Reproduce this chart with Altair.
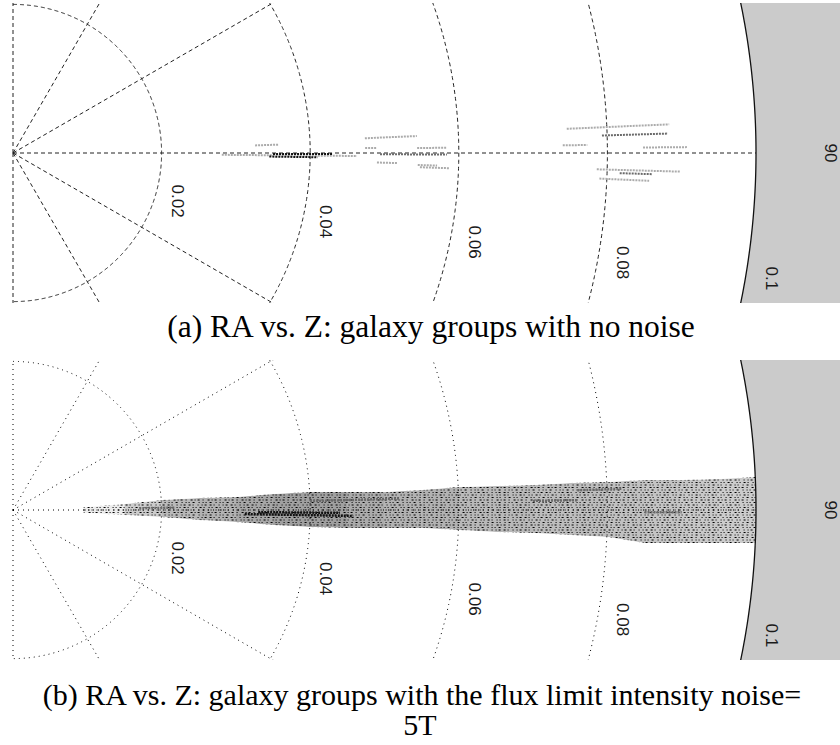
import numpy as np
import pandas as pd
import altair as alt

# ---------------- values ----------------
ring_z = [0.02, 0.04, 0.06, 0.08]
ring_text = ["0.02", "0.04", "0.06", "0.08"]
z_max = 0.1
z_max_text = "0.1"
spoke_ra = [0, 30, 60, 90, 120, 150, 180]
angle_label_ra = [90]
angle_label_text = ["90"]

# (a) galaxy groups: radial runs of members (z start, z end, RA [deg], density class 1..3)
grp_z0 = [0.0326, 0.0281, 0.0350, 0.0345, 0.0474, 0.0474, 0.0494, 0.0490, 0.0545,
          0.0544, 0.0548, 0.0746, 0.0793, 0.0740, 0.0848, 0.0786, 0.0817, 0.0790]
grp_z1 = [0.0357, 0.0463, 0.0430, 0.0410, 0.0544, 0.0490, 0.0584, 0.0517, 0.0571,
          0.0584, 0.0588, 0.0884, 0.0882, 0.0773, 0.0907, 0.0898, 0.0861, 0.0857]
grp_ra = [88.2, 90.5, 90.2, 90.8, 87.6, 89.2, 90.2, 91.5, 91.7,
          89.3, 92.0, 87.5, 88.3, 89.2, 89.5, 91.6, 91.9, 92.5]
grp_level = [1, 1, 3, 3, 1, 1, 2, 1, 1,
             1, 1, 1, 2, 1, 1, 1, 2, 1]

# (b) groups plus flux-limit noise: extent of the filled slice in RA at each z
band_z = [0.0095, 0.015, 0.020, 0.025, 0.030, 0.035, 0.040, 0.045, 0.050, 0.055,
          0.060, 0.065, 0.070, 0.075, 0.080, 0.085, 0.090, 0.095, 0.100]
band_ra_lo = [87.69, 86.92, 86.14, 86.30, 86.66, 86.47, 86.53, 86.92, 87.22, 87.20,
              87.04, 87.15, 87.25, 87.22, 87.30, 87.28, 87.43, 87.48, 87.45]
band_ra_hi = [92.31, 92.57, 92.70, 93.08, 93.08, 93.31, 93.28, 93.08, 92.78, 92.52,
              92.57, 92.61, 92.53, 92.57, 92.60, 92.99, 92.83, 92.68, 92.55]
# point density between consecutive z nodes (fraction of ink)
band_density = [0.10, 0.28, 0.38, 0.42, 0.48, 0.52, 0.52, 0.46, 0.42,
                0.42, 0.38, 0.38, 0.36, 0.36, 0.34, 0.32, 0.30, 0.28]
# denser knots inside the noisy slice
knot_z0 = [0.0312, 0.0330, 0.0170, 0.0400, 0.0700, 0.0760, 0.0850]
knot_z1 = [0.0458, 0.0440, 0.0218, 0.0520, 0.0760, 0.0820, 0.0900]
knot_ra = [91.0, 90.5, 89.2, 88.3, 89.0, 88.0, 90.2]
knot_level = [3, 3, 2, 2, 2, 2, 2]

caption_a = "(a) RA vs. Z: galaxy groups with no noise"
caption_b = ["(b) RA vs. Z: galaxy groups with the flux limit intensity noise=", "5T"]

# ---------------- geometry ----------------
PX_PER_Z = 7430.0     # pixels per unit redshift
W, H = 840, 300
ORIGIN_X = 13         # pixel column of z = 0
LABEL_SLOPE = 0.138   # range labels sit on a ray tilted below the 90 deg spoke
LABEL_DX, LABEL_DY = 15, 11

X_DOM = [-ORIGIN_X / PX_PER_Z, (W - ORIGIN_X) / PX_PER_Z]
Y_DOM = [-H / 2 / PX_PER_Z, H / 2 / PX_PER_Z]
xs = alt.Scale(domain=X_DOM, nice=False, zero=False)
ys = alt.Scale(domain=Y_DOM, nice=False, zero=False)


def polar(z, ra):
    t = np.radians(ra)
    return np.asarray(z) * np.sin(t), np.asarray(z) * np.cos(t)


def X(f):
    return alt.X(f, type="quantitative", scale=xs, axis=None)


def Y(f):
    return alt.Y(f, type="quantitative", scale=ys, axis=None)


arc_ra = np.arange(0, 180.25, 0.25)
rows = []
for z in ring_z:
    ax, ay = polar(z, arc_ra)
    rows += [{"ring": z, "k": k, "x": ax[k], "y": ay[k]} for k in range(len(arc_ra))]
rings = pd.DataFrame(rows)

ox, oy = polar(z_max, arc_ra)
outer = pd.DataFrame({"k": range(len(arc_ra)), "x": ox, "y": oy})

# outside of the rim, limited to the panel's vertical extent
ra_edge = np.degrees(np.arccos(Y_DOM[1] / z_max))
shade_ra = np.linspace(ra_edge, 180 - ra_edge, 241)
shx, shy = polar(z_max, shade_ra)
shade_df = pd.DataFrame({"x": shx, "y": shy, "xr": X_DOM[1]})

sx, sy = polar(z_max, np.array(spoke_ra, dtype=float))
spokes = pd.DataFrame({"x0": 0.0, "y0": 0.0, "x1": sx, "y1": sy})

lab_z = np.array(ring_z + [z_max])
labels = pd.DataFrame({
    "text": ring_text + [z_max_text],
    "x": lab_z + LABEL_DX / PX_PER_Z,
    "y": -lab_z * LABEL_SLOPE - LABEL_DY / PX_PER_Z,
})
alx, aly = polar(1.1 * z_max, np.array(angle_label_ra, dtype=float))
angle_labels = pd.DataFrame({"text": angle_label_text, "x": alx, "y": aly})


def runs(z0, z1, ra, level):
    x0, y0 = polar(z0, ra)
    x1, y1 = polar(z1, ra)
    return pd.DataFrame({"x0": x0, "y0": y0, "x1": x1, "y1": y1, "level": level})


groups_a = runs(grp_z0, grp_z1, grp_ra, grp_level)
knots_b = runs(knot_z0, knot_z1, knot_ra, knot_level)

bz = np.array(band_z)
b_top = bz * np.cos(np.radians(band_ra_lo))
b_bot = bz * np.cos(np.radians(band_ra_hi))

seg_rows = []
for i, d in enumerate(band_density):
    for j in (i, i + 1):
        seg_rows.append({"seg": i, "dens": d, "x": bz[j], "y_top": b_top[j], "y_bot": b_bot[j]})
band = pd.DataFrame(seg_rows)

# speckle texture: irregularly dashed strokes across the slice, trimmed to its outline
SPECKLE_STEP_PX, SPECKLE_HALF_PX = 2.5, 36
dash_styles = [[1, 3, 2, 2, 1, 4, 1, 2], [2, 2, 1, 4, 1, 3, 1, 2, 2, 3],
               [1, 2, 1, 3, 2, 4, 1, 3], [1, 4, 2, 2, 1, 2, 2, 3], [2, 3, 1, 2, 1, 4, 1, 3]]
offs = np.arange(-SPECKLE_HALF_PX + 1, SPECKLE_HALF_PX, SPECKLE_STEP_PX) / PX_PER_Z
speckle = pd.DataFrame({
    "y": offs,
    "x0": bz[0],
    "x1": np.sqrt(z_max ** 2 - offs ** 2),
    "style": [f"s{i % len(dash_styles)}" for i in range(len(offs))],
})
lim = SPECKLE_HALF_PX / PX_PER_Z
mask = pd.DataFrame({"x": np.concatenate([[bz[0] - 0.0004], bz]),
                     "top_in": np.concatenate([[0.0], b_top]),
                     "bot_in": np.concatenate([[0.0], b_bot]),
                     "top_out": lim, "bot_out": -lim})

level_color = alt.Color("level:O", legend=None,
                        scale=alt.Scale(domain=[1, 2, 3], range=["#ababab", "#6a6a6a", "#111111"]))


def panel(grid_dash, grid_color, under, over, captions, cap_size):
    shade = alt.Chart(shade_df).mark_area(orient="horizontal", color="#cbcbcb", opacity=1).encode(
        y=Y("y"), x=X("x"), x2="xr:Q")
    ring_lines = alt.Chart(rings).mark_line(
        clip=True, color=grid_color, strokeWidth=1, strokeDash=grid_dash).encode(
        x=X("x"), y=Y("y"), detail="ring:N", order="k:Q")
    spoke_lines = alt.Chart(spokes).mark_rule(
        clip=True, color=grid_color, strokeWidth=1, strokeDash=grid_dash).encode(
        x=X("x0"), y=Y("y0"), x2="x1:Q", y2="y1:Q")
    rim = alt.Chart(outer).mark_line(clip=True, color="#111111", strokeWidth=1.3).encode(
        x=X("x"), y=Y("y"), order="k:Q")
    rlab = alt.Chart(labels).mark_text(
        angle=90, align="left", baseline="middle", font="Liberation Sans",
        fontSize=17, color="#1a1a1a").encode(x=X("x"), y=Y("y"), text="text:N")
    alab = alt.Chart(angle_labels).mark_text(
        angle=90, align="center", baseline="middle", font="Liberation Sans",
        fontSize=17, color="#1a1a1a").encode(x=X("x"), y=Y("y"), text="text:N")
    caps = []
    for text, xpix, ypix in captions:
        caps.append(alt.Chart(pd.DataFrame({"t": [text]})).mark_text(
            font="Liberation Serif", fontSize=cap_size, color="black",
            align="center", baseline="middle").encode(
            x=alt.value(xpix), y=alt.value(ypix), text="t:N"))
    return alt.layer(shade, *under, ring_lines, spoke_lines, *over, rim, rlab, alab, *caps).properties(
        width=W, height=H)


groups_layer = alt.Chart(groups_a).mark_rule(strokeWidth=2, strokeDash=[2, 1]).encode(
    x=X("x0"), y=Y("y0"), x2="x1:Q", y2="y1:Q", color=level_color)

band_layer = alt.Chart(band).mark_area(color="black").encode(
    x=X("x"), y=Y("y_top"), y2="y_bot:Q", detail="seg:N",
    opacity=alt.Opacity("dens:Q", legend=None, scale=alt.Scale(domain=[0, 1], range=[0, 0.72])))
speckle_layer = alt.Chart(speckle).mark_rule(color="black", strokeWidth=1.2, opacity=1).encode(
    x=X("x0"), x2="x1:Q", y=Y("y"),
    strokeDash=alt.StrokeDash("style:N", legend=None,
                              scale=alt.Scale(domain=[f"s{i}" for i in range(len(dash_styles))],
                                              range=dash_styles)))
mask_top = alt.Chart(mask).mark_area(color="white", opacity=1).encode(
    x=X("x"), y=Y("top_in"), y2="top_out:Q")
mask_bot = alt.Chart(mask).mark_area(color="white", opacity=1).encode(
    x=X("x"), y=Y("bot_in"), y2="bot_out:Q")
knots_layer = alt.Chart(knots_b).mark_rule(strokeWidth=2.5, strokeDash=[2, 1]).encode(
    x=X("x0"), y=Y("y0"), x2="x1:Q", y2="y1:Q", color=level_color)

panel_a = panel([4, 3], "#222222", [], [groups_layer], [(caption_a, 431, 325)], 31.5)
panel_b = panel([1, 4], "#000000", [band_layer, speckle_layer, mask_top, mask_bot], [knots_layer],
                [(caption_b[0], 422, 336), (caption_b[1], 420, 366)], 30)

chart = alt.vconcat(panel_a, panel_b, spacing=57, bounds="flush").configure_view(
    stroke=None).properties(
    padding={"left": 0, "top": 3, "right": 0, "bottom": 0}, background="white")

chart.save("out.html", embed_options={"renderer": "svg", "actions": False})
